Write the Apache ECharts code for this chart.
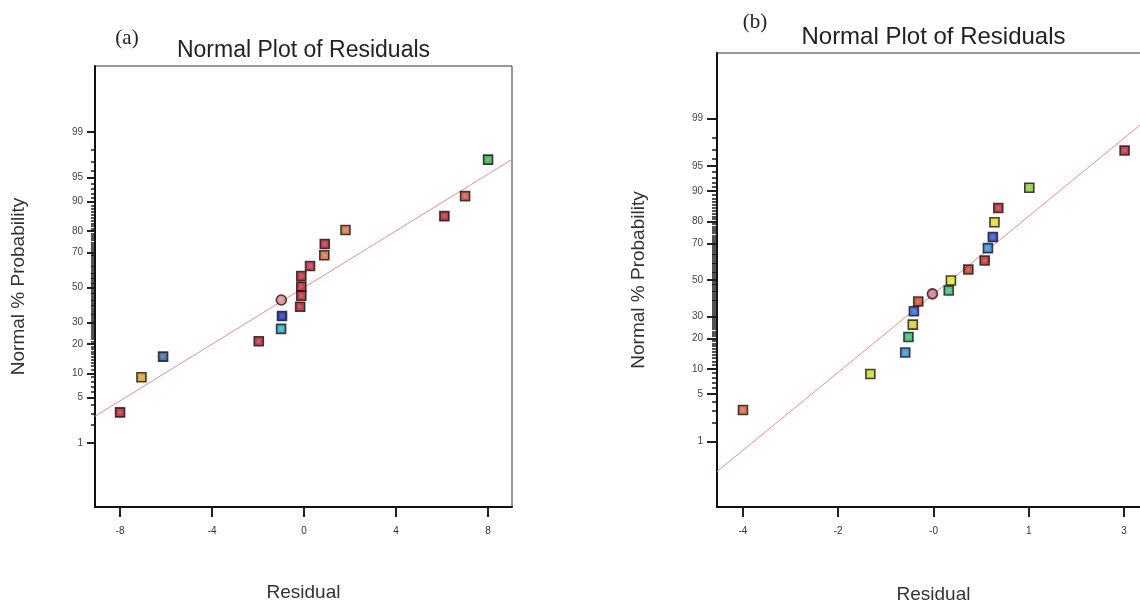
<!DOCTYPE html>
<html>
<head>
<meta charset="utf-8">
<title>Normal Plot of Residuals</title>
<script src="https://cdn.jsdelivr.net/npm/echarts@6/dist/echarts.min.js"></script>
<style>
  html, body { margin: 0; padding: 0; background: #ffffff; }
  #chart { width: 1140px; height: 604px; }
</style>
</head>
<body>
<div id="chart"></div>
<script>
// ---- data: residuals and their normal % probability ----
// panel (a)
const residualA = [8.0, 7.0, 6.1, 1.8, 0.9, 0.88, 0.26, -0.12, -0.12, -0.12, -0.99, -0.17, -0.96, -1.0, -1.97, -6.13, -7.07, -8.0];
const probA     = [97.2, 91.4, 85.7, 80.5, 74.2, 68.5, 62.6, 56.8, 50.5, 45.1, 42.6, 38.7, 33.5, 26.8, 21.1, 15.1, 9.0, 3.1];
// panel (b)
const residualB = [3.01, 1.26, 0.69, 0.62, 0.59, 0.50, 0.44, 0.14, -0.18, -0.22, -0.52, -0.78, -0.86, -0.88, -0.96, -1.02, -1.66, -4.0];
const probB     = [96.9, 90.8, 85.0, 79.7, 73.2, 67.7, 61.1, 56.0, 49.7, 44.0, 42.1, 37.8, 32.6, 26.0, 20.6, 14.8, 8.8, 3.05];

// reference (normal) lines: end points as [residual, % probability]
const fitLineA = [[-9.09, 2.72], [9.04, 97.22]];
const fitLineB = [[-4.477, 0.29], [3.477, 99.06]];

// axis ticks
const probTickLabels = [1, 5, 10, 20, 30, 50, 70, 80, 90, 95, 99];
const probMinorTicks = Array.from({ length: 99 }, (_, i) => i + 1);
const xTicksA = [-8, -4, 0, 4, 8];
const xTickLabelsA = ['-8', '-4', '0', '4', '8'];
const xTicksB = [-4, -2.25, -0.5, 1.25, 3];
const xTickLabelsB = ['-4', '-2', '-0', '1', '3'];

// point colours (design-point colouring) and marker shapes
const colorsA = ['#1fa838', '#c8402c', '#b01020', '#d4602c', '#b8101e', '#d0602e', '#c01030', '#b60e1e',
                 '#b60e1e', '#b60e1e', '#d88080', '#b00c20', '#0814b4', '#12a4b8', '#b2101e', '#24508e', '#d89212', '#b2101e'];
const colorsB = ['#b8101e', '#80c420', '#b81212', '#dcd812', '#1432c2', '#1a82d2', '#c01212', '#c22212',
                 '#e4e212', '#22b262', '#d46474', '#d03412', '#1452d2', '#d4c612', '#22b262', '#1a82d2', '#c2d412', '#d25222'];
const circleIndex = 10;

// ---- inverse standard normal CDF (probability paper scale) ----
function probit(p) {
  const a = [-3.969683028665376e+01, 2.209460984245205e+02, -2.759285104469687e+02, 1.383577518672690e+02, -3.066479806614716e+01, 2.506628277459239e+00];
  const b = [-5.447609879822406e+01, 1.615858368580409e+02, -1.556989798598866e+02, 6.680131188771972e+01, -1.328068155288572e+01];
  const c = [-7.784894002430293e-03, -3.223964580411365e-01, -2.400758277161838e+00, -2.549732539343734e+00, 4.374664141464968e+00, 2.938163982698783e+00];
  const d = [7.784695709041462e-03, 3.224671290700398e-01, 2.445134137142996e+00, 3.754408661907416e+00];
  const plow = 0.02425, phigh = 1 - plow;
  let q, r;
  if (p < plow) {
    q = Math.sqrt(-2 * Math.log(p));
    return (((((c[0] * q + c[1]) * q + c[2]) * q + c[3]) * q + c[4]) * q + c[5]) / ((((d[0] * q + d[1]) * q + d[2]) * q + d[3]) * q + 1);
  }
  if (p <= phigh) {
    q = p - 0.5; r = q * q;
    return (((((a[0] * r + a[1]) * r + a[2]) * r + a[3]) * r + a[4]) * r + a[5]) * q / (((((b[0] * r + b[1]) * r + b[2]) * r + b[3]) * r + b[4]) * r + 1);
  }
  q = Math.sqrt(-2 * Math.log(1 - p));
  return -(((((c[0] * q + c[1]) * q + c[2]) * q + c[3]) * q + c[4]) * q + c[5]) / ((((d[0] * q + d[1]) * q + d[2]) * q + d[3]) * q + 1);
}
const z = pct => probit(pct / 100);

function lighten(hex, t) {
  const n = parseInt(hex.slice(1), 16);
  const ch = [(n >> 16) & 255, (n >> 8) & 255, n & 255].map(v => Math.round(v + (255 - v) * t));
  return 'rgb(' + ch.join(',') + ')';
}

function pointData(res, prob, colors) {
  return res.map((r, i) => ({
    value: [r, z(prob[i])],
    symbol: i === circleIndex ? 'circle' : 'rect',
    symbolSize: i === circleIndex ? 10 : 9,
    itemStyle: {
      color: {
        type: 'radial', x: 0.5, y: 0.5, r: 0.5,
        colorStops: [{ offset: 0, color: lighten(colors[i], 0.22) }, { offset: 0.6, color: colors[i] }, { offset: 1, color: colors[i] }]
      },
      borderColor: '#141414',
      borderWidth: 1.6
    }
  }));
}

const FONT = '"Liberation Sans", Arial, sans-serif';
const probTickZ = probTickLabels.map(z);
const probMinorZ = probMinorTicks.map(z);
function probLabel(v) {
  let best = 0;
  probTickZ.forEach((t, i) => { if (Math.abs(t - v) < Math.abs(probTickZ[best] - v)) best = i; });
  return String(probTickLabels[best]);
}

function xAxisFor(gridIndex, min, max, ticks, labels, nameGap) {
  return {
    type: 'value', gridIndex, min, max,
    name: 'Residual', nameLocation: 'middle', nameGap,
    nameTextStyle: { fontFamily: FONT, fontSize: 19, color: '#333' },
    axisLine: { show: true, onZero: false, lineStyle: { color: '#111', width: 2 } },
    axisTick: { show: true, customValues: ticks, length: 10, lineStyle: { color: '#222', width: 2 } },
    axisLabel: {
      customValues: ticks, margin: 19, fontFamily: FONT, fontSize: 10, color: '#333',
      formatter: v => { let k = 0; ticks.forEach((t, i) => { if (Math.abs(t - v) < Math.abs(ticks[k] - v)) k = i; }); return labels[k]; }
    },
    splitLine: { show: false }
  };
}

function yAxesFor(gridIndex, min, max, nameGap, margin, majorLen, minorLen) {
  return [{
    type: 'value', gridIndex, min, max, position: 'left',
    name: 'Normal % Probability', nameLocation: 'middle', nameRotate: 90, nameGap,
    nameTextStyle: { fontFamily: FONT, fontSize: 19, color: '#333' },
    axisLine: { show: true, onZero: false, lineStyle: { color: '#111', width: 2 } },
    axisTick: { show: true, customValues: probTickZ, length: majorLen, lineStyle: { color: '#222', width: 2 } },
    axisLabel: { customValues: probTickZ, margin, fontFamily: FONT, fontSize: 10, color: '#444', formatter: probLabel },
    splitLine: { show: false }
  }, {
    // fine 1 % graduation of the probability scale
    type: 'value', gridIndex, min, max, position: 'left', offset: 0,
    axisLine: { show: false, onZero: false },
    axisTick: { show: true, customValues: probMinorZ, length: minorLen, lineStyle: { color: '#1a1a1a', width: 1.5 } },
    axisLabel: { show: false },
    splitLine: { show: false }
  }];
}

const chart = echarts.init(document.getElementById('chart'), null, { renderer: 'canvas' });
chart.setOption({
  animation: false,
  backgroundColor: '#ffffff',
  grid: [
    { left: 95, top: 66, width: 417, height: 441, show: true, borderColor: '#333', borderWidth: 1, outerBoundsMode: 'none', containLabel: false },
    { left: 717, top: 53, width: 433, height: 454, show: true, borderColor: '#333', borderWidth: 1, outerBoundsMode: 'none', containLabel: false }
  ],
  xAxis: [
    xAxisFor(0, -9.09, 9.04, xTicksA, xTickLabelsA, 76),
    xAxisFor(1, -4.477, 3.477, xTicksB, xTickLabelsB, 78)
  ],
  yAxis: [
    ...yAxesFor(0, -3.28, 3.31, 67, 12, 8, 4),
    ...yAxesFor(1, -3.27, 3.27, 69, 14, 10, 5)
  ],
  graphic: [
    { type: 'text', x: 303.5, y: 51, style: { text: 'Normal Plot of Residuals', font: '23px ' + FONT, fill: '#222', align: 'center', verticalAlign: 'middle' } },
    { type: 'text', x: 933.5, y: 37, style: { text: 'Normal Plot of Residuals', font: '24px ' + FONT, fill: '#222', align: 'center', verticalAlign: 'middle' } },
    { type: 'text', x: 127, y: 38, style: { text: '(a)', font: '21px "Liberation Serif", "Times New Roman", serif', fill: '#222', align: 'center', verticalAlign: 'middle' } },
    { type: 'text', x: 755, y: 22, style: { text: '(b)', font: '21px "Liberation Serif", "Times New Roman", serif', fill: '#222', align: 'center', verticalAlign: 'middle' } }
  ],
  series: [
    {
      type: 'line', xAxisIndex: 0, yAxisIndex: 0, symbol: 'none', silent: true, z: 1,
      lineStyle: { color: '#f08a8a', width: 1 },
      data: fitLineA.map(p => [p[0], z(p[1])])
    },
    { type: 'scatter', xAxisIndex: 0, yAxisIndex: 0, z: 3, data: pointData(residualA, probA, colorsA) },
    {
      type: 'line', xAxisIndex: 1, yAxisIndex: 2, symbol: 'none', silent: true, z: 1,
      lineStyle: { color: '#f08a8a', width: 1 },
      data: fitLineB.map(p => [p[0], z(p[1])])
    },
    { type: 'scatter', xAxisIndex: 1, yAxisIndex: 2, z: 3, data: pointData(residualB, probB, colorsB) }
  ]
});
</script>
</body>
</html>
